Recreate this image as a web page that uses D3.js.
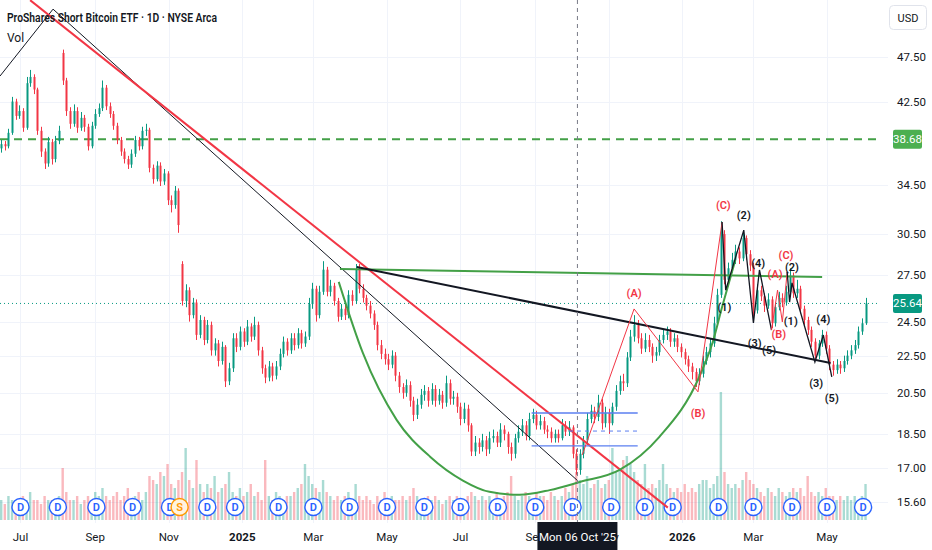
<!DOCTYPE html>
<html>
<head>
<meta charset="utf-8">
<script src="https://cdn.jsdelivr.net/npm/d3@7"></script>
<style>
  body { margin: 0; background: #fff; }
  svg { font-family: "Trebuchet MS", Roboto, sans-serif; display: block; }
</style>
</head>
<body>
<svg id="chart"></svg>
<script>
// daily candles sampled every 3 calendar days from 15 Jun 2024
var firstDate = "2024-06-15";
var firstOpen = 37.8;
var gapOpens = {17: 48.0, 50: 28.3};

var closes = [
  38.2,38.0,39.3,42.5,41.0,41.5,39.8,44.5,45.2,43.8,
  39.5,37.5,36.4,38.4,36.8,38.5,39.5,44.8,41.5,40.2,
  41.5,39.8,40.8,39.9,38.0,40.0,41.2,41.8,44.0,42.0,
  41.2,40.0,38.6,37.5,36.8,36.3,37.3,38.6,38.0,39.5,
  39.6,36.0,35.0,36.2,34.8,35.5,33.2,32.8,34.0,31.2,
  25.8,26.5,24.9,25.7,23.7,24.6,23.4,24.3,22.8,23.2,
  22.2,23.0,21.1,21.8,23.5,23.0,23.9,23.3,24.2,23.6,
  24.3,22.8,21.8,21.3,21.9,21.4,21.9,22.6,23.3,22.8,
  23.5,23.1,23.8,23.2,23.6,25.6,26.6,24.9,26.4,27.9,
  26.4,26.8,25.8,24.8,25.3,24.9,26.2,25.8,27.9,26.6,
  26.0,25.5,25.0,24.3,23.1,22.6,22.3,22.0,22.5,21.4,
  20.8,20.5,20.9,20.1,19.4,19.9,20.4,20.6,20.1,20.7,
  20.1,20.4,20.0,21.0,20.2,20.3,19.8,19.2,19.7,18.9,
  17.7,18.1,17.9,18.2,17.8,18.3,18.4,18.1,18.7,18.5,
  17.9,17.6,18.3,18.6,18.9,18.4,19.2,19.4,18.9,19.1,
  18.7,18.6,18.3,18.5,18.3,18.9,18.6,18.8,17.6,16.9,
  17.6,18.2,19.2,19.6,19.3,20.0,19.0,19.5,19.0,19.8,
  20.6,21.1,21.0,22.4,23.6,24.3,23.5,22.9,23.4,23.0,
  22.5,22.7,23.4,23.7,23.9,23.3,23.5,23.0,22.7,22.3,
  21.9,21.6,21.1,21.5,22.2,22.7,23.2,24.4,26.2,30.5,
  27.2,28.0,28.6,29.2,28.7,30.2,29.0,28.2,25.2,26.5,
  26.1,25.5,25.9,24.4,25.4,26.0,25.7,26.4,27.5,26.3,
  26.6,25.3,24.6,24.0,23.3,22.5,23.2,23.7,22.9,22.0,
  21.7,22.0,21.8,22.2,22.5,22.8,23.1,23.9,24.4,25.64
];
var highs = [
  38.6,38.5,39.7,43.0,42.8,42.1,41.8,45.2,46.0,45.5,
  44.0,39.9,37.8,38.9,38.7,39.0,40.0,48.4,45.1,41.9,
  42.2,41.9,41.4,41.1,40.2,40.4,41.7,42.3,44.8,44.3,
  42.4,41.5,40.3,38.9,37.8,37.1,37.7,39.0,38.9,39.9,
  40.2,39.8,36.3,36.6,36.5,35.9,35.7,33.6,34.4,34.2,
  28.5,26.9,26.7,26.0,25.9,24.9,24.8,24.6,24.5,23.5,
  23.4,23.3,23.1,22.1,23.8,23.8,24.2,24.1,24.6,24.4,
  24.8,24.5,23.0,22.0,22.2,22.1,22.2,22.9,23.6,23.5,
  23.8,23.8,24.1,24.0,23.9,26.0,27.0,26.8,26.8,28.5,
  28.1,27.2,27.0,26.0,25.6,25.6,26.5,26.5,28.3,28.3,
  26.9,26.2,25.8,25.2,24.5,23.4,22.9,22.6,22.8,22.7,
  21.6,21.0,21.2,21.1,20.3,20.2,20.7,20.9,20.8,21.0,
  20.9,20.7,20.6,21.4,21.2,20.6,20.5,20.0,20.0,19.9,
  19.0,18.4,18.3,18.5,18.4,18.6,18.7,18.6,19.0,18.9,
  18.6,18.1,18.5,18.9,19.2,19.1,19.5,19.7,19.6,19.4,
  19.3,18.9,18.8,18.7,18.7,19.2,19.1,19.1,18.9,17.8,
  17.8,18.4,19.5,19.9,19.8,20.4,20.2,19.8,19.7,20.0,
  20.9,21.4,21.5,22.7,24.0,24.9,24.6,23.8,23.8,23.7,
  23.2,23.0,23.7,24.0,24.2,24.1,23.8,23.7,23.2,22.9,
  22.5,22.1,21.8,21.8,22.5,23.0,23.5,24.8,26.6,31.5,
  30.8,28.4,29.1,29.7,29.5,30.8,30.4,29.3,28.4,26.9,
  26.8,26.3,26.3,26.1,25.7,26.4,26.3,26.8,28.0,27.7,
  27.2,26.8,25.5,24.8,24.2,23.5,23.4,24.0,23.9,23.1,
  22.2,22.3,22.2,22.5,22.8,23.1,23.4,24.2,24.7,26.0
];
var lows = [
  37.4,37.6,37.8,39.1,40.6,40.7,39.4,39.6,44.1,43.3,
  39.1,37.0,35.9,36.1,36.3,36.5,38.2,44.3,41.0,39.7,
  39.9,39.3,39.5,39.4,37.6,37.8,39.7,40.9,41.5,41.6,
  40.8,39.6,38.2,37.1,36.4,35.9,36.0,37.0,37.6,37.7,
  39.0,35.6,34.6,34.8,34.4,34.5,32.8,32.2,32.5,30.6,
  25.5,25.4,24.5,24.7,23.4,23.5,23.1,23.2,22.5,22.5,
  21.9,22.0,20.8,20.9,21.6,22.7,22.8,23.0,23.1,23.3,
  23.4,22.5,21.5,21.0,21.1,21.1,21.2,21.7,22.4,22.5,
  22.6,22.8,22.9,22.9,23.0,23.4,25.3,24.5,24.7,26.2,
  26.1,26.1,25.5,24.5,24.6,24.6,24.7,25.5,25.6,26.3,
  25.7,25.2,24.7,24.0,22.8,22.3,22.0,21.7,21.8,21.1,
  20.5,20.2,20.3,19.8,19.1,19.2,19.7,20.1,19.8,19.9,
  19.8,19.9,19.7,19.8,19.9,19.9,19.5,18.9,19.0,18.6,
  17.5,17.5,17.6,17.7,17.5,17.6,18.1,17.9,17.9,18.2,
  17.6,17.3,17.4,18.1,18.4,18.2,18.2,19.0,18.7,18.7,
  18.5,18.3,18.1,18.1,18.1,18.2,18.4,18.4,17.4,16.7,
  16.7,17.4,18.0,19.0,19.0,19.1,18.7,18.8,18.5,18.9,
  19.6,20.4,20.6,20.8,22.2,23.3,23.2,22.6,22.7,22.7,
  22.1,22.2,22.5,23.2,23.4,23.0,23.0,22.7,22.4,22.0,
  21.6,21.2,20.8,20.9,21.3,22.0,22.4,23.0,24.2,26.0,
  26.9,26.9,27.7,28.3,28.3,28.5,28.6,27.8,24.8,25.0,
  25.8,25.1,25.3,24.1,24.2,25.2,25.4,25.5,26.2,26.0,
  26.0,25.0,24.3,23.7,23.0,22.2,22.3,23.0,22.6,21.7,
  21.4,21.5,21.5,21.6,22.0,22.3,22.6,22.9,23.7,24.3
];
// volume, millions of shares
var volumes = [
  5,4,6,5,4,5,6,5,7,5,   5,4,6,5,5,4,6,13,7,5,
  5,6,4,5,6,5,7,6,8,6,   5,6,7,5,6,8,5,6,7,5,
  7,11,10,9,12,11,14,9,8,10,  12,18,10,8,15,9,7,9,8,11,
  7,8,9,12,7,6,8,6,7,9,  6,7,5,15,6,5,7,6,5,6,
  6,7,8,9,14,11,9,8,7,10,  7,6,5,6,5,6,7,5,9,6,
  5,6,5,4,6,5,7,5,6,5,   5,6,5,6,8,6,5,4,6,5,
  6,5,4,5,6,5,6,5,4,6,   7,6,5,6,5,6,5,7,5,6,
  7,11,6,5,6,7,6,5,7,6,  6,5,7,6,5,6,8,7,9,12,
  10,9,11,8,9,10,8,9,10,18,  12,13,15,16,14,12,10,9,14,8,
  9,8,10,14,9,8,7,8,7,9,  7,8,7,9,10,10,8,9,11,32,
  12,9,8,9,8,10,12,10,9,8,  7,6,8,7,6,8,7,6,7,8,
  7,8,6,11,7,6,7,6,8,6,  6,5,6,5,6,5,6,5,6,9
];

var priceTicks = [15.6, 17, 18.5, 20.5, 22.5, 24.5, 27.5, 30.5, 34.5, 42.5, 47.5];
var monthTicks = [
  ["2024-07-01", "Jul"], ["2024-09-01", "Sep"], ["2024-11-01", "Nov"], ["2025-01-01", "2025"],
  ["2025-03-01", "Mar"], ["2025-05-01", "May"], ["2025-07-01", "Jul"], ["2025-09-01", "Sep"],
  ["2025-11-01", "Nov"], ["2026-01-01", "2026"], ["2026-03-01", "Mar"], ["2026-05-01", "May"]
];
var dividendDates = [
  "2024-07-01", "2024-08-01", "2024-09-02", "2024-10-02", "2024-11-02", "2024-12-03",
  "2024-12-26", "2025-01-31", "2025-03-01", "2025-03-31", "2025-05-01", "2025-06-01",
  "2025-07-01", "2025-08-01", "2025-09-01", "2025-10-02", "2025-11-03", "2025-12-01",
  "2025-12-24", "2026-01-31", "2026-03-01", "2026-04-02", "2026-05-01", "2026-05-31"
];
var splitDates = ["2024-11-10"];
var lastPrice = 25.64;
var targetPrice = 38.68;
var crosshairDate = "2025-10-06";

// drawings, anchored as [date, price]
var blackThin = [["2024-06-14", 45.30], ["2024-07-28", 53.56], ["2025-10-06", 16.46]];
var redTrend = [["2024-07-09", 54.78], ["2025-12-20", 15.38]];
var greenLevel = [["2025-03-23", 27.95], ["2026-04-27", 27.39]];
var blackNeck = [["2025-04-06", 28.09], ["2026-05-04", 22.09]];
var cupCurve = [
  ["2025-03-22", 27.06], ["2025-04-11", 22.65], ["2025-05-09", 19.16], ["2025-06-06", 17.46],
  ["2025-07-03", 16.46], ["2025-07-25", 16.00], ["2025-08-19", 15.88], ["2025-09-13", 16.07],
  ["2025-10-08", 16.40], ["2025-11-10", 16.90], ["2025-12-13", 18.36], ["2026-01-15", 21.33],
  ["2026-01-26", 23.22], ["2026-02-03", 25.41], ["2026-02-14", 28.59]
];
var boxTop = [["2025-08-29", 19.49], ["2025-11-25", 19.49]];
var boxMid = [["2025-09-29", 18.63], ["2025-11-25", 18.63]];
var boxBottom = [["2025-08-29", 17.95], ["2025-11-25", 17.95]];
var redAbc1 = [["2025-10-10", 17.55], ["2025-11-22", 25.29], ["2026-01-14", 20.55], ["2026-02-03", 31.44]];
var blackWave1 = [["2026-02-03", 31.44], ["2026-02-06", 26.51], ["2026-02-21", 30.81],
  ["2026-03-01", 24.42], ["2026-03-06", 27.88], ["2026-03-16", 23.99]];
var redAbc2 = [["2026-03-16", 23.99], ["2026-03-21", 26.51], ["2026-03-25", 24.48], ["2026-03-29", 27.74]];
var blackWave2 = [["2026-03-29", 27.74], ["2026-03-31", 25.73], ["2026-04-02", 26.99],
  ["2026-04-21", 22.15], ["2026-04-28", 23.69], ["2026-05-05", 21.33]];
var redLabels = [
  ["2025-11-22", 26.32, "(A)"], ["2026-01-14", 19.49, "(B)"], ["2026-02-04", 32.80, "(C)"],
  ["2026-03-19", 27.60, "(A)"], ["2026-03-22", 23.75, "(B)"], ["2026-03-28", 28.95, "(C)"]
];
var blackLabels = [
  ["2026-02-05", 25.41, "(1)"], ["2026-02-21", 31.99, "(2)"], ["2026-03-02", 23.22, "(3)"],
  ["2026-03-05", 28.37, "(4)"], ["2026-03-14", 22.82, "(5)"], ["2026-04-01", 24.55, "(1)"],
  ["2026-04-02", 28.09, "(2)"], ["2026-04-22", 21.01, "(3)"], ["2026-04-28", 24.66, "(4)"],
  ["2026-05-05", 20.24, "(5)"]
];

var width = 932, height = 550, plotW = 880, plotH = 523;
var up = "#089981", down = "#f23645";
var parse = d3.timeParse("%Y-%m-%d");

var candles = closes.map(function(c, i) {
    var open = i === 0 ? firstOpen : (gapOpens[i] !== undefined ? gapOpens[i] : closes[i - 1]);
    return {date: d3.timeDay.offset(parse(firstDate), 3 * i), open: open, high: highs[i],
            low: lows[i], close: c, vol: volumes[i]};
});

var x = d3.scaleTime().domain([parse("2024-06-14"), parse("2026-06-14")]).range([0, plotW]);
var y = d3.scaleLog().domain([14.8, 54.8]).range([plotH, 0]);
var vy = d3.scaleLinear().domain([0, 40]).range([520, 360]);

var svg = d3.select("#chart").attr("width", width).attr("height", height);

svg.append("defs").append("clipPath").attr("id", "plot")
    .append("rect").attr("width", plotW).attr("height", plotH);

// grid
var grid = svg.append("g");
grid.selectAll(".hg").data(priceTicks).enter().append("line")
    .attr("x1", 0).attr("x2", 888)
    .attr("y1", function(d) { return Math.round(y(d)) + 0.5; })
    .attr("y2", function(d) { return Math.round(y(d)) + 0.5; })
    .attr("stroke", "#f0f3fa");
grid.selectAll(".vg").data(monthTicks).enter().append("line")
    .attr("x1", function(d) { return Math.round(x(parse(d[0]))) + 0.5; })
    .attr("x2", function(d) { return Math.round(x(parse(d[0]))) + 0.5; })
    .attr("y1", 0).attr("y2", plotH)
    .attr("stroke", "#f0f3fa");

var plot = svg.append("g").attr("clip-path", "url(#plot)");

// volume
plot.selectAll(".vol").data(candles).enter().append("rect")
    .attr("x", function(d) { return x(d.date) - 1.2; })
    .attr("width", 2.4)
    .attr("y", function(d) { return vy(d.vol); })
    .attr("height", function(d) { return vy(0) - vy(d.vol); })
    .attr("fill", function(d) { return d.close >= d.open ? up : down; })
    .attr("opacity", 0.35);

// dividend and split markers
function marker(dates, stroke, fill, letter) {
    var g = plot.selectAll(".m" + letter).data(dates).enter().append("g")
        .attr("transform", function(d) { return "translate(" + x(parse(d)) + ",507)"; });
    g.append("circle").attr("r", 8.5).attr("fill", fill)
        .attr("stroke", stroke).attr("stroke-width", 1.4);
    g.append("text").attr("text-anchor", "middle").attr("dy", 3.8)
        .attr("font-size", 11).attr("font-weight", 600).attr("fill", stroke)
        .text(letter);
}
marker(dividendDates, "#2962ff", "#fff", "D");
marker(splitDates, "#ff9800", "#fff3e0", "S");

// target level
plot.append("line")
    .attr("x1", 0).attr("x2", plotW)
    .attr("y1", y(targetPrice)).attr("y2", y(targetPrice))
    .attr("stroke", "#43a047").attr("stroke-width", 2).attr("stroke-dasharray", "8,6");

// last price line
plot.append("line")
    .attr("x1", 0).attr("x2", plotW)
    .attr("y1", y(lastPrice)).attr("y2", y(lastPrice))
    .attr("stroke", up).attr("stroke-dasharray", "1,3");

// candles
var c = plot.selectAll(".candle").data(candles).enter().append("g")
    .attr("fill", function(d) { return d.close >= d.open ? up : down; })
    .attr("stroke", function(d) { return d.close >= d.open ? up : down; });
c.append("line")
    .attr("x1", function(d) { return Math.round(x(d.date)) + 0.5; })
    .attr("x2", function(d) { return Math.round(x(d.date)) + 0.5; })
    .attr("y1", function(d) { return y(d.high); })
    .attr("y2", function(d) { return y(d.low); });
c.append("rect")
    .attr("stroke", "none")
    .attr("x", function(d) { return Math.round(x(d.date)) - 0.5; })
    .attr("width", 2)
    .attr("y", function(d) { return y(Math.max(d.open, d.close)); })
    .attr("height", function(d) { return Math.max(1, Math.abs(y(d.open) - y(d.close))); });

// drawings
var line = d3.line()
    .x(function(d) { return x(parse(d[0])); })
    .y(function(d) { return y(d[1]); });
function draw(pts, color, w, dash, curve) {
    plot.append("path")
        .attr("d", curve ? line.curve(d3.curveMonotoneX)(pts) : line.curve(d3.curveLinear)(pts))
        .attr("fill", "none").attr("stroke", color).attr("stroke-width", w)
        .attr("stroke-dasharray", dash || null);
}
draw(blackThin, "#131722", 1);
draw(redTrend, "#f23645", 2);
draw(cupCurve, "#43a047", 2, null, true);
draw(greenLevel, "#43a047", 2);
draw(blackNeck, "#131722", 2);
draw(boxTop, "#5b7ff0", 1.3);
draw(boxMid, "#5b7ff0", 1, "4,4");
draw(boxBottom, "#5b7ff0", 1.3);
draw(redAbc1, "#f23645", 1);
draw(blackWave1, "#131722", 1.3);
draw(redAbc2, "#f23645", 1);
draw(blackWave2, "#131722", 1.3);

function labels(list, color) {
    plot.selectAll(null).data(list).enter().append("text")
        .attr("x", function(d) { return x(parse(d[0])); })
        .attr("y", function(d) { return y(d[1]); })
        .attr("dy", 4)
        .attr("text-anchor", "middle")
        .attr("font-size", 11).attr("font-weight", 600)
        .attr("fill", color)
        .text(function(d) { return d[2]; });
}
labels(redLabels, "#f23645");
labels(blackLabels, "#131722");

// crosshair
var cx = x(parse(crosshairDate));
svg.append("line")
    .attr("x1", cx).attr("x2", cx).attr("y1", 0).attr("y2", plotH)
    .attr("stroke", "#787b86").attr("stroke-dasharray", "4,4");

// time axis
svg.append("g").selectAll("text").data(monthTicks).enter().append("text")
    .attr("x", function(d) { return x(parse(d[0])); })
    .attr("y", 541)
    .attr("text-anchor", "middle")
    .attr("font-size", 11.5)
    .attr("font-weight", function(d) { return /^\d/.test(d[1]) ? 700 : 400; })
    .attr("fill", "#131722")
    .text(function(d) { return d[1]; });

var tip = svg.append("g").attr("transform", "translate(" + cx + ",0)");
tip.append("rect").attr("x", -40).attr("y", 522).attr("width", 80).attr("height", 28)
    .attr("fill", "#131722");
tip.append("text").attr("y", 541).attr("text-anchor", "middle")
    .attr("font-size", 11.5).attr("fill", "#fff")
    .text(d3.timeFormat("%a %d %b '%y")(parse(crosshairDate)));

// price axis
var axis = svg.append("g");
axis.selectAll("text").data(priceTicks).enter().append("text")
    .attr("x", 897).attr("y", function(d) { return y(d); })
    .attr("dy", 4)
    .attr("font-size", 11.5).attr("fill", "#131722")
    .text(function(d) { return d.toFixed(2); });

function tag(v, color) {
    axis.append("rect").attr("x", 893).attr("y", y(v) - 9.5).attr("width", 29).attr("height", 19)
        .attr("rx", 2).attr("fill", color);
    axis.append("text").attr("x", 907.5).attr("y", y(v)).attr("dy", 4)
        .attr("text-anchor", "middle").attr("font-size", 11.5).attr("fill", "#fff")
        .text(v.toFixed(2));
}
tag(targetPrice, "#4caf50");
tag(lastPrice, up);

axis.append("rect").attr("x", 889.5).attr("y", 5.5).attr("width", 37).attr("height", 24)
    .attr("rx", 4).attr("fill", "#fff").attr("stroke", "#e0e3eb");
axis.append("text").attr("x", 908).attr("y", 21.5).attr("text-anchor", "middle")
    .attr("font-size", 11).attr("fill", "#131722").text("USD");

// legend
svg.append("text").attr("x", 7).attr("y", 22)
    .attr("font-size", 12.5).attr("font-weight", 600).attr("fill", "#131722")
    .attr("textLength", 210).attr("lengthAdjust", "spacingAndGlyphs")
    .text("ProShares Short Bitcoin ETF \u00b7 1D \u00b7 NYSE Arca");
svg.append("text").attr("x", 7).attr("y", 42)
    .attr("font-size", 12).attr("fill", "#131722")
    .text("Vol");
</script>
</body>
</html>
